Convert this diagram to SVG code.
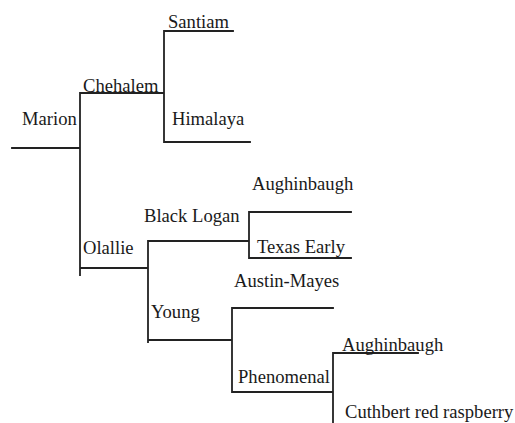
<svg xmlns="http://www.w3.org/2000/svg" width="515" height="423" viewBox="0 0 515 423">
<style>
.c{fill:none;stroke:#222;stroke-width:1.8;stroke-linecap:square}
text{font-family:"Liberation Serif","Times New Roman",serif;font-size:18.6px;fill:#1a1a1a}
</style>
<rect width="515" height="423" fill="#fff"/>
<g id="connectors">
<path class="c" d="M12 148H80M80 93V275M80 93H164M164 31V142M164 31H233M164 142H250M80 268H148M148 241V342M148 241H249M249 212V258M249 212H351M249 258H351M148 340H232M232 308V392M232 308H333M232 392H333M333 353V423M333 353H418"/>
</g>
<g id="n-marion"><text x="22" y="125">Marion</text></g>
<g id="n-chehalem"><text x="83" y="92">Chehalem</text></g>
<g id="n-santiam"><text x="168" y="28">Santiam</text></g>
<g id="n-himalaya"><text x="172" y="125">Himalaya</text></g>
<g id="n-olallie"><text x="83" y="254">Olallie</text></g>
<g id="n-blacklogan"><text x="144" y="222">Black Logan</text></g>
<g id="n-aughinbaugh1"><text x="252" y="190">Aughinbaugh</text></g>
<g id="n-texasearly"><text x="257" y="253">Texas Early</text></g>
<g id="n-young"><text x="151" y="318">Young</text></g>
<g id="n-austinmayes"><text x="234" y="287">Austin-Mayes</text></g>
<g id="n-phenomenal"><text x="238" y="383">Phenomenal</text></g>
<g id="n-aughinbaugh2"><text x="342" y="351">Aughinbaugh</text></g>
<g id="n-cuthbert"><text x="345" y="418">Cuthbert red raspberry</text></g>
</svg>
